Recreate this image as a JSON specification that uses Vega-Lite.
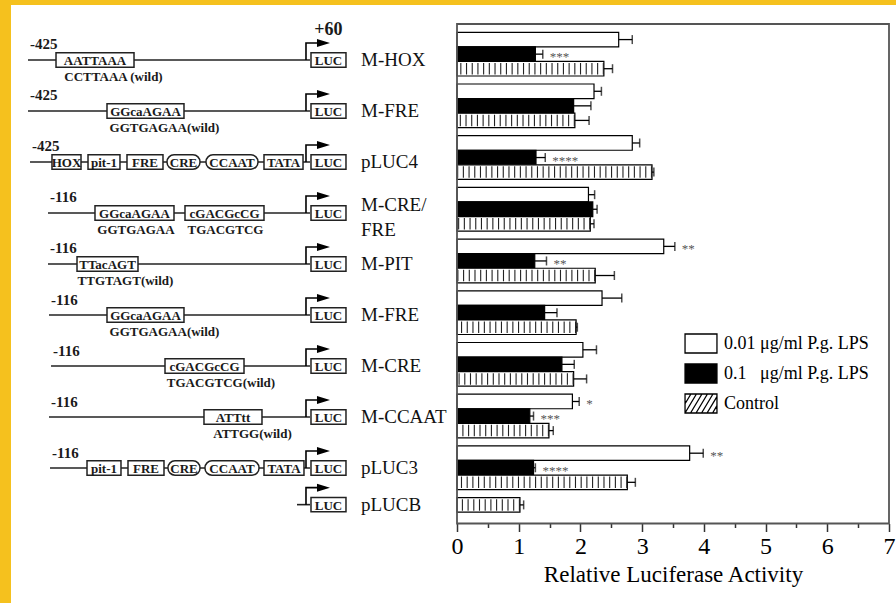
{
  "$schema": "https://vega.github.io/schema/vega-lite/v6.json",
  "width": 885,
  "height": 598,
  "autosize": {"type": "none"},
  "padding": {"left": 11, "top": 5, "right": 0, "bottom": 0},
  "background": "#f5c11e",
  "config": {"view": {"fill": "white", "stroke": null}, "font": "Liberation Serif"},
  "datasets": {
    "bars": [
      {"c": "M-HOX", "t": "0.01", "slot": "1", "v": 2.62, "hi": 2.84},
      {"c": "M-HOX", "t": "0.1", "slot": "2", "v": 1.27, "hi": 1.39, "sig": "***"},
      {"c": "M-HOX", "t": "Control", "slot": "3", "v": 2.38, "hi": 2.52},
      {"c": "M-FRE-425", "t": "0.01", "slot": "1", "v": 2.22, "hi": 2.34},
      {"c": "M-FRE-425", "t": "0.1", "slot": "2", "v": 1.89, "hi": 2.17},
      {"c": "M-FRE-425", "t": "Control", "slot": "3", "v": 1.91, "hi": 2.14},
      {"c": "pLUC4", "t": "0.01", "slot": "1", "v": 2.84, "hi": 2.96},
      {"c": "pLUC4", "t": "0.1", "slot": "2", "v": 1.28, "hi": 1.43, "sig": "****"},
      {"c": "pLUC4", "t": "Control", "slot": "3", "v": 3.16, "hi": 3.19},
      {"c": "M-CRE/FRE", "t": "0.01", "slot": "1", "v": 2.13, "hi": 2.23},
      {"c": "M-CRE/FRE", "t": "0.1", "slot": "2", "v": 2.2, "hi": 2.27},
      {"c": "M-CRE/FRE", "t": "Control", "slot": "3", "v": 2.16, "hi": 2.22},
      {"c": "M-PIT", "t": "0.01", "slot": "1", "v": 3.35, "hi": 3.53, "sig": "**"},
      {"c": "M-PIT", "t": "0.1", "slot": "2", "v": 1.26, "hi": 1.45, "sig": "**"},
      {"c": "M-PIT", "t": "Control", "slot": "3", "v": 2.24, "hi": 2.55},
      {"c": "M-FRE-116", "t": "0.01", "slot": "1", "v": 2.35, "hi": 2.67},
      {"c": "M-FRE-116", "t": "0.1", "slot": "2", "v": 1.42, "hi": 1.62},
      {"c": "M-FRE-116", "t": "Control", "slot": "3", "v": 1.93, "hi": 1.95},
      {"c": "M-CRE", "t": "0.01", "slot": "1", "v": 2.04, "hi": 2.26},
      {"c": "M-CRE", "t": "0.1", "slot": "2", "v": 1.7, "hi": 1.9},
      {"c": "M-CRE", "t": "Control", "slot": "3", "v": 1.89, "hi": 2.1},
      {"c": "M-CCAAT", "t": "0.01", "slot": "1", "v": 1.87, "hi": 1.98, "sig": "*"},
      {"c": "M-CCAAT", "t": "0.1", "slot": "2", "v": 1.18, "hi": 1.24, "sig": "***"},
      {"c": "M-CCAAT", "t": "Control", "slot": "3", "v": 1.49, "hi": 1.56},
      {"c": "pLUC3", "t": "0.01", "slot": "1", "v": 3.77, "hi": 3.99, "sig": "**"},
      {"c": "pLUC3", "t": "0.1", "slot": "2", "v": 1.24, "hi": 1.27, "sig": "****"},
      {"c": "pLUC3", "t": "Control", "slot": "3", "v": 2.76, "hi": 2.89},
      {"c": "pLUCB", "t": "Control", "slot": "1", "v": 1.02, "hi": 1.08}
    ],
    "constructs": [
      {"c": "M-HOX", "slot": "2", "from": 0, "to": 67.14, "start": "-425", "name": "M-HOX", "tss": "+60"},
      {"c": "M-FRE-425", "slot": "2", "from": 0, "to": 67.14, "start": "-425", "name": "M-FRE"},
      {"c": "pLUC4", "slot": "2", "from": 0.48, "to": 67.14, "start": "-425", "name": "pLUC4"},
      {"c": "M-CRE/FRE", "slot": "2", "from": 4.76, "to": 67.14, "start": "-116", "name": "M-CRE/\n\u00a0\u00a0\u00a0\u00a0\u00a0FRE"},
      {"c": "M-PIT", "slot": "2", "from": 4.76, "to": 67.14, "start": "-116", "name": "M-PIT"},
      {"c": "M-FRE-116", "slot": "2", "from": 5.0, "to": 67.14, "start": "-116", "name": "M-FRE"},
      {"c": "M-CRE", "slot": "2", "from": 5.48, "to": 67.14, "start": "-116", "name": "M-CRE"},
      {"c": "M-CCAAT", "slot": "2", "from": 5.0, "to": 67.14, "start": "-116", "name": "M-CCAAT"},
      {"c": "pLUC3", "slot": "2", "from": 5.24, "to": 67.14, "start": "-116", "name": "pLUC3"},
      {"c": "pLUCB", "slot": "1", "from": 64.05, "to": 67.14, "name": "pLUCB"}
    ],
    "elements": [
      {"c": "M-HOX", "slot": "2", "el": "AATTAAA", "from": 6.67, "to": 25.24, "at": 15.95},
      {"c": "M-HOX", "slot": "2", "el": "LUC", "from": 67.38, "to": 75.71, "at": 71.55},
      {"c": "M-FRE-425", "slot": "2", "el": "GGcaAGAA", "from": 18.81, "to": 37.14, "at": 27.98},
      {"c": "M-FRE-425", "slot": "2", "el": "LUC", "from": 67.38, "to": 75.71, "at": 71.55},
      {"c": "pLUC4", "slot": "2", "el": "HOX", "from": 5.71, "to": 12.62, "at": 9.17},
      {"c": "pLUC4", "slot": "2", "el": "pit-1", "from": 14.29, "to": 21.9, "at": 18.1},
      {"c": "pLUC4", "slot": "2", "el": "FRE", "from": 23.57, "to": 32.14, "at": 27.86},
      {"c": "pLUC4", "slot": "2", "el": "CRE", "from": 33.1, "to": 40.95, "at": 37.02},
      {"c": "pLUC4", "slot": "2", "el": "CCAAT", "from": 42.38, "to": 54.76, "at": 48.57},
      {"c": "pLUC4", "slot": "2", "el": "TATA", "from": 56.19, "to": 65.48, "at": 60.83},
      {"c": "pLUC4", "slot": "2", "el": "LUC", "from": 67.38, "to": 75.71, "at": 71.55},
      {"c": "M-CRE/FRE", "slot": "2", "el": "GGcaAGAA", "from": 15.95, "to": 34.76, "at": 25.36},
      {"c": "M-CRE/FRE", "slot": "2", "el": "cGACGcCG", "from": 37.38, "to": 56.19, "at": 46.79},
      {"c": "M-CRE/FRE", "slot": "2", "el": "LUC", "from": 67.38, "to": 75.71, "at": 71.55},
      {"c": "M-PIT", "slot": "2", "el": "TTacAGT", "from": 11.67, "to": 26.19, "at": 18.93},
      {"c": "M-PIT", "slot": "2", "el": "LUC", "from": 67.38, "to": 75.71, "at": 71.55},
      {"c": "M-FRE-116", "slot": "2", "el": "GGcaAGAA", "from": 18.81, "to": 37.14, "at": 27.98},
      {"c": "M-FRE-116", "slot": "2", "el": "LUC", "from": 67.38, "to": 75.71, "at": 71.55},
      {"c": "M-CRE", "slot": "2", "el": "cGACGcCG", "from": 32.62, "to": 51.43, "at": 42.02},
      {"c": "M-CRE", "slot": "2", "el": "LUC", "from": 67.38, "to": 75.71, "at": 71.55},
      {"c": "M-CCAAT", "slot": "2", "el": "ATTtt", "from": 41.9, "to": 55.71, "at": 48.81},
      {"c": "M-CCAAT", "slot": "2", "el": "LUC", "from": 67.38, "to": 75.71, "at": 71.55},
      {"c": "pLUC3", "slot": "2", "el": "pit-1", "from": 14.05, "to": 22.14, "at": 18.1},
      {"c": "pLUC3", "slot": "2", "el": "FRE", "from": 23.81, "to": 32.38, "at": 28.1},
      {"c": "pLUC3", "slot": "2", "el": "CRE", "from": 33.33, "to": 40.95, "at": 37.14},
      {"c": "pLUC3", "slot": "2", "el": "CCAAT", "from": 42.14, "to": 55.0, "at": 48.57},
      {"c": "pLUC3", "slot": "2", "el": "TATA", "from": 56.19, "to": 65.71, "at": 60.95},
      {"c": "pLUC3", "slot": "2", "el": "LUC", "from": 67.38, "to": 75.71, "at": 71.55},
      {"c": "pLUCB", "slot": "1", "el": "LUC", "from": 67.38, "to": 75.71, "at": 71.55}
    ],
    "notes": [
      {"c": "M-HOX", "slot": "2", "text": "CCTTAAA (wild)", "at": 20.36},
      {"c": "M-FRE-425", "slot": "2", "text": "GGTGAGAA(wild)", "at": 32.5},
      {"c": "M-CRE/FRE", "slot": "2", "text": "GGTGAGAA", "at": 25.71},
      {"c": "M-CRE/FRE", "slot": "2", "text": "TGACGTCG", "at": 47.02},
      {"c": "M-PIT", "slot": "2", "text": "TTGTAGT(wild)", "at": 23.21},
      {"c": "M-FRE-116", "slot": "2", "text": "GGTGAGAA(wild)", "at": 32.5},
      {"c": "M-CRE", "slot": "2", "text": "TGACGTCG(wild)", "at": 45.95},
      {"c": "M-CCAAT", "slot": "2", "text": "ATTGG(wild)", "at": 53.45}
    ]
  },
  "layer": [
    {
      "data": {"name": "bars"},
      "layer": [
        {
          "mark": {"type": "bar", "stroke": "black", "strokeWidth": 1.2},
          "encoding": {
            "x": {
              "field": "v", "type": "quantitative", "stack": null,
              "scale": {"domain": [0, 7], "range": [446, 878], "nice": false, "zero": false},
              "axis": {
                "orient": "bottom", "offset": -79.5, "domain": false, "grid": false,
                "values": [0, 0.5, 1, 1.5, 2, 2.5, 3, 3.5, 4, 4.5, 5, 5.5, 6, 6.5, 7],
                "labelExpr": "datum.value % 1 === 0 ? format(datum.value, 'd') : ''",
                "tickSize": {"condition": {"test": "datum.value % 1 === 0", "value": 8}, "value": 4},
                "tickColor": "#333", "tickWidth": 1.5,
                "labelFont": "Liberation Serif", "labelFontSize": 24, "labelColor": "black",
                "labelPadding": 3, "labelFlush": false, "labelOverlap": false,
                "title": "Relative Luciferase Activity", "titleFont": "Liberation Serif",
                "titleFontSize": 23, "titleFontWeight": "normal", "titleColor": "black", "titlePadding": 5
              }
            },
            "y": {
              "field": "c", "type": "nominal",
              "scale": {"domain": ["M-HOX", "M-FRE-425", "pLUC4", "M-CRE/FRE", "M-PIT", "M-FRE-116", "M-CRE", "M-CCAAT", "pLUC3", "pLUCB"], "range": [27.3, 536.3], "paddingInner": 0.155, "paddingOuter": 0},
              "axis": null
            },
            "yOffset": {"field": "slot", "type": "nominal", "scale": {"domain": ["1", "2", "3"], "paddingInner": 0, "paddingOuter": 0}},
            "fill": {
              "field": "t", "type": "nominal",
              "scale": {"domain": ["0.01", "0.1", "Control"], "range": ["white", "black", "white"]},
              "legend": {
                "orient": "none", "legendX": 679.5, "legendY": 328, "title": null, "padding": 0,
                "symbolSize": 361, "rowPadding": 5, "labelOffset": 12.5,
                "symbolType": "M-1.68,-1H1.68V1H-1.68Z", "symbolOpacity": 1,
                "symbolStrokeColor": "black", "symbolStrokeWidth": 1.3,
                "labelFont": "Liberation Serif", "labelFontSize": 18, "labelColor": "black",
                "labelExpr": "datum.value === '0.01' ? '0.01 μg/ml P.g. LPS' : (datum.value === '0.1' ? '0.1\u00a0\u00a0\u00a0μg/ml P.g. LPS' : 'Control')"
              }
            }
          }
        },
        {
          "mark": {"type": "point", "filled": true, "opacity": 0, "size": 361, "stroke": "black", "strokeWidth": 1.3},
          "encoding": {
            "x": {"field": "v", "type": "quantitative"},
            "y": {"field": "c", "type": "nominal"},
            "yOffset": {"field": "slot", "type": "nominal"},
            "fill": {"field": "t", "type": "nominal"},
            "shape": {
              "field": "t", "type": "nominal",
              "scale": {"domain": ["0.01", "0.1", "Control"], "range": ["M-1.68,-1H1.68V1H-1.68Z", "M-1.68,-1H1.68V1H-1.68Z", "M-1.68,-1H1.68V1H-1.68Z M-1.68,0.03L-1.06,-1 M-1.68,1L-0.48,-1 M-1.1,1L0.1,-1 M-0.52,1L0.68,-1 M0.06,1L1.26,-1 M0.64,1L1.68,-0.73 M1.22,1L1.68,0.23"]},
              "legend": {
                "orient": "none", "legendX": 679.5, "legendY": 328, "title": null, "padding": 0,
                "symbolSize": 361, "rowPadding": 5, "labelOffset": 12.5, "symbolOpacity": 1,
                "symbolStrokeColor": "black", "symbolStrokeWidth": 1.3,
                "labelFont": "Liberation Serif", "labelFontSize": 18, "labelColor": "black",
                "labelExpr": "datum.value === '0.01' ? '0.01 μg/ml P.g. LPS' : (datum.value === '0.1' ? '0.1\u00a0\u00a0\u00a0μg/ml P.g. LPS' : 'Control')"
              }
            }
          }
        },
        {
          "transform": [{"filter": "datum.t === 'Control'"}],
          "mark": {"type": "rule", "color": "#222", "strokeWidth": 11.5, "strokeDash": [1.1, 4.6]},
          "encoding": {
            "x": {"field": "v", "type": "quantitative"},
            "x2": {"datum": 0},
            "y": {"field": "c", "type": "nominal"},
            "yOffset": {"field": "slot", "type": "nominal"}
          }
        },
        {
          "mark": {"type": "rule", "color": "black", "strokeWidth": 1.3},
          "encoding": {
            "x": {"field": "v", "type": "quantitative"},
            "x2": {"field": "hi"},
            "y": {"field": "c", "type": "nominal"},
            "yOffset": {"field": "slot", "type": "nominal"}
          }
        },
        {
          "mark": {"type": "tick", "orient": "vertical", "color": "black", "size": 9, "thickness": 1.5},
          "encoding": {
            "x": {"field": "hi", "type": "quantitative"},
            "y": {"field": "c", "type": "nominal"},
            "yOffset": {"field": "slot", "type": "nominal"}
          }
        },
        {
          "transform": [{"filter": "datum.sig"}],
          "mark": {"type": "text", "align": "left", "baseline": "middle", "dx": 7, "dy": 3, "fontSize": 13, "color": "#555", "letterSpacing": 1},
          "encoding": {
            "x": {"field": "hi", "type": "quantitative"},
            "y": {"field": "c", "type": "nominal"},
            "yOffset": {"field": "slot", "type": "nominal"},
            "text": {"field": "sig"}
          }
        }
      ]
    },
    {
      "layer": [
        {
          "data": {"name": "constructs"},
          "mark": {"type": "rule", "color": "#222", "strokeWidth": 1.6},
          "encoding": {
            "x": {"field": "from", "type": "quantitative", "scale": {"domain": [0, 100], "range": [17, 437], "nice": false, "zero": false}, "axis": null},
            "x2": {"field": "to"},
            "y": {
              "field": "c", "type": "nominal",
              "scale": {"domain": ["M-HOX", "M-FRE-425", "pLUC4", "M-CRE/FRE", "M-PIT", "M-FRE-116", "M-CRE", "M-CCAAT", "pLUC3", "pLUCB"], "range": [33.45, 535.55], "paddingInner": 0.155, "paddingOuter": 0},
              "axis": null
            },
            "yOffset": {"field": "slot", "type": "nominal", "scale": {"domain": ["1", "2", "3"], "paddingInner": 0, "paddingOuter": 0}}
          }
        },
        {
          "data": {"name": "elements"},
          "transform": [{"filter": "datum.el !== 'CRE' && datum.el !== 'CCAAT'"}],
          "mark": {"type": "rect", "fill": "white", "stroke": "#222", "strokeWidth": 1.5},
          "encoding": {
            "x": {"field": "from", "type": "quantitative"},
            "x2": {"field": "to"},
            "y": {"field": "c", "type": "nominal"},
            "yOffset": {"field": "slot", "type": "nominal"}
          }
        },
        {
          "data": {"name": "elements"},
          "transform": [{"filter": "datum.el === 'CRE' || datum.el === 'CCAAT'"}],
          "mark": {"type": "rect", "fill": "white", "stroke": "#222", "strokeWidth": 1.5, "cornerRadius": 7},
          "encoding": {
            "x": {"field": "from", "type": "quantitative"},
            "x2": {"field": "to"},
            "y": {"field": "c", "type": "nominal"},
            "yOffset": {"field": "slot", "type": "nominal"}
          }
        },
        {
          "data": {"name": "elements"},
          "mark": {"type": "text", "align": "center", "baseline": "middle", "fontSize": 13, "fontWeight": "bold", "color": "#1a1a1a", "dy": 1},
          "encoding": {
            "x": {"field": "at", "type": "quantitative"},
            "y": {"field": "c", "type": "nominal"},
            "yOffset": {"field": "slot", "type": "nominal"},
            "text": {"field": "el"}
          }
        },
        {
          "data": {"name": "constructs"},
          "mark": {"type": "point", "filled": true, "fill": "black", "strokeWidth": 0, "opacity": 1, "size": 4, "shape": "M-4.8,0V-17.8H7V-16.2H-3.2V0Z M7,-21L20,-17L7,-13Z"},
          "encoding": {
            "x": {"field": "to", "type": "quantitative"},
            "y": {"field": "c", "type": "nominal"},
            "yOffset": {"field": "slot", "type": "nominal"}
          }
        },
        {
          "data": {"name": "constructs"},
          "transform": [{"filter": "datum.start"}],
          "mark": {"type": "text", "align": "left", "baseline": "middle", "dx": 2, "dy": -15.5, "fontSize": 15, "fontWeight": "bold", "color": "#1a1a1a"},
          "encoding": {
            "x": {"field": "from", "type": "quantitative"},
            "y": {"field": "c", "type": "nominal"},
            "yOffset": {"field": "slot", "type": "nominal"},
            "text": {"field": "start"}
          }
        },
        {
          "data": {"name": "constructs"},
          "transform": [{"filter": "datum.tss"}],
          "mark": {"type": "text", "align": "center", "baseline": "middle", "dx": 18.5, "dy": -30, "fontSize": 18, "fontWeight": "bold", "color": "#1a1a1a"},
          "encoding": {
            "x": {"field": "to", "type": "quantitative"},
            "y": {"field": "c", "type": "nominal"},
            "yOffset": {"field": "slot", "type": "nominal"},
            "text": {"field": "tss"}
          }
        },
        {
          "data": {"name": "constructs"},
          "transform": [{"filter": "datum.c !== 'M-CRE/FRE'"}],
          "mark": {"type": "text", "align": "left", "baseline": "middle", "dx": 51, "fontSize": 19, "color": "#111"},
          "encoding": {
            "x": {"field": "to", "type": "quantitative"},
            "y": {"field": "c", "type": "nominal"},
            "yOffset": {"field": "slot", "type": "nominal"},
            "text": {"field": "name"}
          }
        },
        {
          "data": {"name": "constructs"},
          "transform": [{"filter": "datum.c === 'M-CRE/FRE'"}],
          "mark": {"type": "text", "align": "left", "baseline": "middle", "dx": 51, "dy": -8, "fontSize": 19, "color": "#111", "lineBreak": "\n", "lineHeight": 25},
          "encoding": {
            "x": {"field": "to", "type": "quantitative"},
            "y": {"field": "c", "type": "nominal"},
            "yOffset": {"field": "slot", "type": "nominal"},
            "text": {"field": "name"}
          }
        },
        {
          "data": {"name": "notes"},
          "mark": {"type": "text", "align": "center", "baseline": "middle", "dy": 17, "fontSize": 13, "fontWeight": "bold", "color": "#1a1a1a"},
          "encoding": {
            "x": {"field": "at", "type": "quantitative"},
            "y": {"field": "c", "type": "nominal"},
            "yOffset": {"field": "slot", "type": "nominal"},
            "text": {"field": "text"}
          }
        }
      ]
    },
    {
      "data": {"values": [{"panel": "plot area"}]},
      "mark": {"type": "rect", "filled": false, "stroke": "#555", "strokeWidth": 1.8},
      "encoding": {
        "x": {"datum": 0, "type": "quantitative", "scale": {"domain": [0, 7], "range": [446, 878], "nice": false, "zero": false}, "axis": null},
        "x2": {"datum": 7},
        "y": {"datum": 0, "type": "quantitative", "scale": {"domain": [0, 1], "range": [518.5, 19], "nice": false, "zero": false}, "axis": null},
        "y2": {"datum": 1}
      }
    }
  ],
  "resolve": {"scale": {"x": "independent", "y": "independent", "yOffset": "independent"}}
}
